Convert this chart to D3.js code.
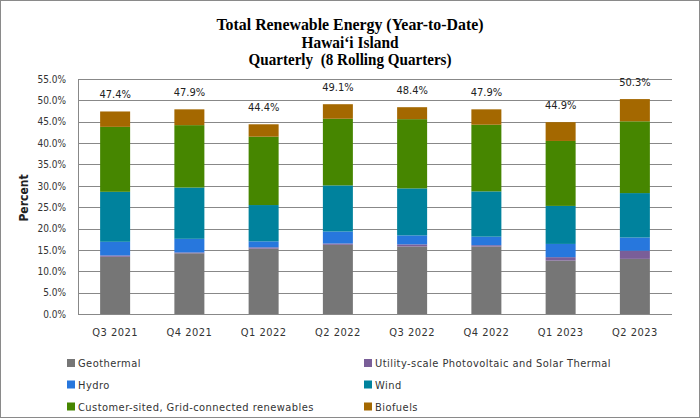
<!DOCTYPE html>
<html><head><meta charset="utf-8">
<script src="https://cdn.jsdelivr.net/npm/d3@7"></script>
<style>
html,body{margin:0;padding:0;background:#fff;}
svg{display:block;}
</style></head>
<body>
<svg id="chart" width="700" height="419"></svg>
<script>
const quarters = ["Q3 2021","Q4 2021","Q1 2022","Q2 2022","Q3 2022","Q4 2022","Q1 2023","Q2 2023"];
const geothermal = [13.4, 14.2, 15.3, 16.2, 15.8, 15.8, 12.5, 12.9];
const utilityPV  = [0.3, 0.2, 0.3, 0.3, 0.5, 0.3, 0.8, 1.9];
const hydro      = [3.2, 3.2, 1.4, 2.8, 2.1, 2.0, 3.1, 3.1];
const wind       = [11.7, 12.0, 8.5, 10.8, 11.0, 10.6, 8.9, 10.4];
const customer   = [15.2, 14.6, 16.0, 15.6, 16.2, 15.6, 15.2, 16.8];
const biofuels   = [3.6, 3.7, 2.9, 3.4, 2.8, 3.6, 4.4, 5.2];
const totals     = [47.4, 47.9, 44.4, 49.1, 48.4, 47.9, 44.9, 50.3];
const yTicks     = [0,5,10,15,20,25,30,35,40,45,50,55];
const seriesNames = ["Geothermal","Utility-scale Photovoltaic and Solar Thermal","Hydro","Wind","Customer-sited, Grid-connected renewables","Biofuels"];
const seriesColors = ["#767676","#7a5e98","#2777dd","#00829d","#468600","#a46800"];
const titleLines = ["Total Renewable Energy (Year-to-Date)","Hawai\u2018i Island","Quarterly\u00a0\u00a0(8 Rolling Quarters)"];

const seriesData = [geothermal, utilityPV, hydro, wind, customer, biofuels];
const table = quarters.map((q,i)=>{ const o={q}; seriesNames.forEach((n,k)=>o[n]=seriesData[k][i]); return o; });
const stacked = d3.stack().keys(seriesNames)(table);

const svg = d3.select("#chart");
const font = "'DejaVu Sans Condensed','DejaVu Sans',Tahoma,sans-serif";
const txt = "#333";

// outer border
svg.append("rect").attr("x",0.5).attr("y",0.5).attr("width",699).attr("height",417)
  .attr("fill","#fff").attr("stroke","#8a8a8a").attr("stroke-width",1);

const L=78, R=672, T=79, B=314;
const x = d3.scaleBand().domain(quarters).range([L,R]).paddingInner(0.596).paddingOuter(0.298);
const y = d3.scaleLinear().domain([0,55]).range([B,T]);

// gridlines
svg.append("g").selectAll("line").data(yTicks).join("line")
  .attr("x1",L).attr("x2",R)
  .attr("y1",d=>Math.round(y(d))+0.5).attr("y2",d=>Math.round(y(d))+0.5)
  .attr("stroke","#888").attr("stroke-width",1);

// bars
svg.append("g").selectAll("g").data(stacked).join("g")
  .attr("fill",(d,i)=>seriesColors[i])
  .selectAll("rect").data(d=>d).join("rect")
  .attr("x",d=>x(d.data.q)).attr("width",x.bandwidth())
  .attr("y",d=>y(d[1])).attr("height",d=>y(d[0])-y(d[1]));

// left axis line
svg.append("line").attr("x1",L+0.5).attr("x2",L+0.5).attr("y1",T).attr("y2",B+0.5)
  .attr("stroke","#888");

// y axis labels
const yAxis = d3.axisLeft(y).tickValues(yTicks).tickFormat(d=>d3.format(".1f")(d)+"%").tickSize(0).tickPadding(12);
const gy = svg.append("g").attr("transform",`translate(${L},0)`).call(yAxis);
gy.select(".domain").remove();
gy.selectAll("text").attr("font-family",font).attr("font-size","10px").attr("fill",txt);

// x axis labels
const xAxis = d3.axisBottom(x).tickSize(0).tickPadding(14);
const gx = svg.append("g").attr("transform",`translate(0,${B})`).call(xAxis);
gx.select(".domain").remove();
gx.selectAll("text").attr("font-family",font).attr("font-size","11px").attr("letter-spacing","0.5px").attr("fill",txt);

// total labels
svg.append("g").selectAll("text").data(quarters).join("text")
  .attr("x",d=>x(d)+x.bandwidth()/2).attr("y",(d,i)=>y(totals[i])-13)
  .attr("text-anchor","middle").attr("font-family",font).attr("font-size","11px").attr("fill","#222")
  .text((d,i)=>d3.format(".1f")(totals[i])+"%");

// y title
svg.append("text").attr("transform","translate(28,198) rotate(-90)")
  .attr("text-anchor","middle").attr("font-family",font).attr("font-size","12px")
  .attr("font-weight","bold").attr("fill","#222").text("Percent");

// title
const titleW = [267, 97, 203];
const titleY = [29.5, 47.5, 65];
titleLines.forEach((t,i)=>{
  svg.append("text").attr("x",350).attr("y",titleY[i]).attr("text-anchor","middle")
    .attr("font-family","'Liberation Serif','Times New Roman',serif").attr("font-weight","bold")
    .attr("font-size","16.5px").attr("fill","#000")
    .attr("textLength",titleW[i]).attr("lengthAdjust","spacingAndGlyphs").text(t);
});

// legend
const legX = [67, 364];
const legY = [363, 384.5, 406.5];
const leg = svg.append("g").selectAll("g").data(seriesNames).join("g")
  .attr("transform",(d,i)=>`translate(${legX[i%2]},${legY[Math.floor(i/2)]})`);
leg.append("rect").attr("x",0).attr("y",-4).attr("width",8).attr("height",8).attr("fill",(d,i)=>seriesColors[i]);
leg.append("text").attr("x",11).attr("y",4).attr("font-family",font).attr("font-size","11px")
  .attr("letter-spacing","0.45px").attr("fill",txt).text(d=>d);
</script>
</body></html>
